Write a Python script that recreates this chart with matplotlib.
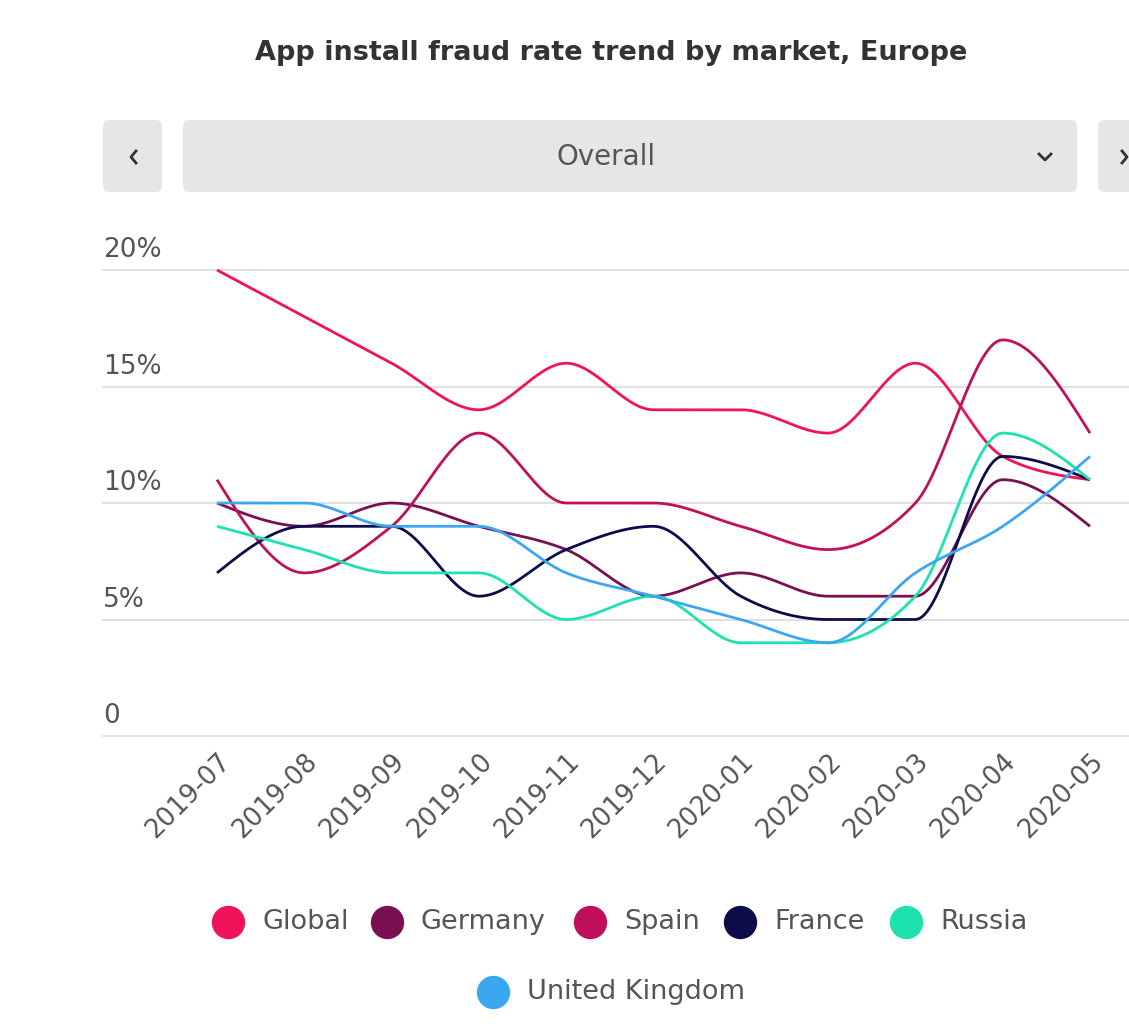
import numpy as np
import matplotlib
matplotlib.use("Agg")
import matplotlib.pyplot as plt
from matplotlib.patches import FancyBboxPatch
from matplotlib.lines import Line2D
import matplotlib.transforms as mtransforms

plt.rcParams['font.family'] = ['DejaVu Sans']

# data ======================================================================
months = ['2019-07', '2019-08', '2019-09', '2019-10', '2019-11', '2019-12',
          '2020-01', '2020-02', '2020-03', '2020-04', '2020-05']
markets = ['Global', 'Germany', 'Spain', 'France', 'Russia', 'United Kingdom']
global_ = [20, 18, 16, 14, 16, 14, 14, 13, 16, 12, 11]
germany = [10, 9, 10, 9, 8, 6, 7, 6, 6, 11, 9]
spain = [11, 7, 9, 13, 10, 10, 9, 8, 10, 17, 13]
france = [7, 9, 9, 6, 8, 9, 6, 5, 5, 12, 11]
russia = [9, 8, 7, 7, 5, 6, 4, 4, 6, 13, 11]
uk = [10, 10, 9, 9, 7, 6, 5, 4, 7, 9, 12]
yticks = [0, 5, 10, 15, 20]
ytick_labels = ['0', '5%', '10%', '15%', '20%']

series = [global_, germany, spain, france, russia, uk]
colors = ['#f0135a', '#7a0f52', '#c0105a', '#0d0c4a', '#1de2b0', '#3aa8f0']


# monotone cubic (same curve the web chart draws between points)
def monotone(y, n=30):
    y = np.asarray(y, float)
    x = np.arange(len(y), dtype=float)
    s = np.diff(y)
    t = np.zeros(len(y))
    for i in range(1, len(y) - 1):
        p = (s[i - 1] + s[i]) / 2
        t[i] = (np.sign(s[i - 1]) + np.sign(s[i])) * min(abs(s[i - 1]), abs(s[i]), 0.5 * abs(p))
    t[0] = (3 * s[0] - t[1]) / 2
    t[-1] = (3 * s[-1] - t[-2]) / 2
    xs, ys = [], []
    for i in range(len(y) - 1):
        u = np.linspace(0, 1, n, endpoint=(i == len(y) - 2))
        h00 = 2 * u**3 - 3 * u**2 + 1
        h10 = u**3 - 2 * u**2 + u
        h01 = -2 * u**3 + 3 * u**2
        h11 = u**3 - u**2
        xs.append(x[i] + u)
        ys.append(h00 * y[i] + h10 * t[i] + h01 * y[i + 1] + h11 * t[i + 1])
    return np.concatenate(xs), np.concatenate(ys)


W, H = 1129, 1024
txt = '#555555'
fig = plt.figure(figsize=(W / 100, H / 100), dpi=100)
fig.patch.set_facecolor('white')

# plot area (pixel layout from the reference)
ax = fig.add_axes([103 / W, 1 - 736 / H, 1 - 103 / W, (736 - 270) / H])
ax.set_ylim(0, 20)
step = (1090 - 217) / 10
ax.set_xlim((103 - 217) / step, (1129 - 217) / step)

for v in yticks:
    ax.axhline(v, color='#dddddd', lw=1.3, zorder=0, clip_on=False)

for vals, c, name in zip(series, colors, markets):
    xs, ys = monotone(vals)
    ax.plot(xs, ys, color=c, lw=2.0, clip_on=False, solid_capstyle='butt', label=name)

for s in ax.spines.values():
    s.set_visible(False)
ax.set_yticks([])
ax.set_xticks(range(len(months)))
ax.set_xticklabels(months, rotation=45, ha='right', va='top', rotation_mode='anchor',
                   fontsize=18.5, color=txt)
ax.tick_params(axis='x', length=0, pad=9)

trans = mtransforms.blended_transform_factory(ax.transAxes, ax.transData)
for v, lab in zip(yticks, ytick_labels):
    ax.text(0, v + 0.3, lab, transform=trans, ha='left', va='bottom',
            fontsize=19, color=txt)

# title
fig.text(611 / W, 1 - 53 / H, 'App install fraud rate trend by market, Europe',
         ha='center', va='center', fontsize=19.5, fontweight='bold', color='#333333')

# dropdown bar
for x0, x1 in [(103, 162), (183, 1077), (1098, 1160)]:
    fig.patches.append(FancyBboxPatch((x0 / W, 1 - 192 / H), (x1 - x0) / W, 72 / H,
                                      boxstyle='round,pad=0,rounding_size=0.006',
                                      transform=fig.transFigure, facecolor='#e6e6e6',
                                      edgecolor='none', clip_on=False))
fig.text(606 / W, 1 - 157 / H, 'Overall', ha='center', va='center',
         fontsize=20, color=txt)


def chevron(pts):
    xs = [p[0] / W for p in pts]
    ys = [1 - p[1] / H for p in pts]
    fig.add_artist(Line2D(xs, ys, transform=fig.transFigure, color='#333333', lw=2))


chevron([(136, 151), (131, 157), (136, 163)])
chevron([(1039, 154), (1045, 160), (1051, 154)])
chevron([(1122, 151), (1127, 157), (1122, 163)])

# legend
legend_items = [(228, 922, 0), (387, 922, 1), (590, 922, 2), (740, 922, 3),
                (906, 922, 4), (493, 992, 5)]
for cx, cy, i in legend_items:
    fig.add_artist(Line2D([cx / W], [1 - cy / H], transform=fig.transFigure,
                          marker='o', markersize=23, color=colors[i], lw=0))
    fig.text((cx + 34) / W, 1 - cy / H, markets[i], ha='left', va='center',
             fontsize=19.5, color=txt)

fig.savefig('out.png', dpi=100, facecolor='white')
